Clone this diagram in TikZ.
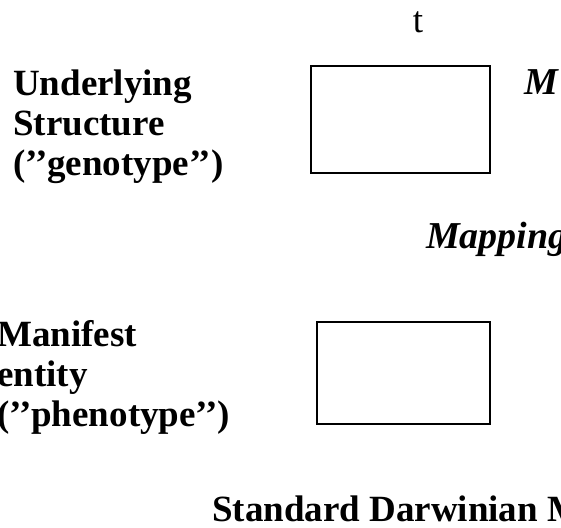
\documentclass[tikz,border=0pt]{standalone}
\usepackage{fontspec}
\setmainfont{Liberation Serif}
\begin{document}
\begin{tikzpicture}[x=1pt,y=-1pt,
  lbl/.style={font=\fontsize{37}{38}\selectfont\bfseries, anchor=base west, inner sep=0pt},
  ital/.style={font=\fontsize{38}{40}\selectfont\bfseries\itshape, anchor=base west, inner sep=0pt},
  plain/.style={font=\fontsize{37}{38}\selectfont, anchor=base, inner sep=0pt},
  stage/.style={draw, line width=2pt, inner sep=0pt, anchor=north west}]
\useasboundingbox (0,0) rectangle (561,527);
\clip (0,0) rectangle (561,527);

% time label
\node[plain] (time) at (418,33) {t};

% genotype row
\node[lbl] (u1) at (13,95) {Underlying};
\node[lbl] (u2) at (13,135) {Structure};
\node[lbl] (u3) at (13,175) {(’’genotype’’)};
\node[stage, minimum width=179pt, minimum height=107pt] (geno) at (310,65) {};
\node[ital] (mut) at (524,94) {M};

% mapping label
\node[ital] (map) at (426,248) {Mapping};

% phenotype row
\node[lbl] (m1) at (-3,346) {Manifest};
\node[lbl] (m2) at (-3,386) {entity};
\node[lbl] (m3) at (-3,426) {(’’phenotype’’)};
\node[stage, minimum width=173pt, minimum height=102pt] (pheno) at (316,321) {};

% caption
\node[lbl] (cap) at (212,521) {Standard Darwinian Model};
\end{tikzpicture}
\end{document}
